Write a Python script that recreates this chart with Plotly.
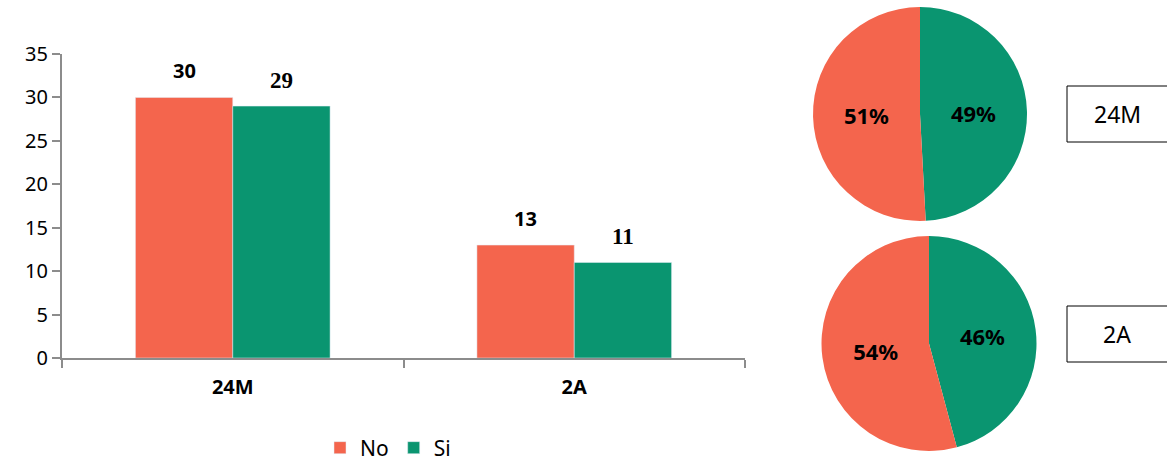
import plotly.graph_objects as go

categories = ["24M", "2A"]
no_values = [30, 13]
si_values = [29, 11]
series_names = ["No", "Si"]
y_ticks = [0, 5, 10, 15, 20, 25, 30, 35]

c_no = "#F4654D"
c_si = "#0A9570"
axis_col = "#8C8C8C"
W, H = 1167, 461

def px(x):
    return x / W

def py(y):
    return 1 - y / H

fig = go.Figure()

fig.add_trace(go.Bar(x=categories, y=no_values, name=series_names[0], marker_color=c_no))
fig.add_trace(go.Bar(x=categories, y=si_values, name=series_names[1], marker_color=c_si))

# value labels above bars (positioned via the data axes)
half_bar = 48.5
for cat, v in zip(categories, no_values):
    fig.add_annotation(xref="x", yref="y", x=cat, y=v, text=str(v), showarrow=False,
                       xshift=-half_bar, yshift=27, yanchor="middle",
                       font=dict(family="Noto Sans", size=20, color="black", weight="bold"))
for cat, v in zip(categories, si_values):
    fig.add_annotation(xref="x", yref="y", x=cat, y=v, text=str(v), showarrow=False,
                       xshift=half_bar, yshift=26, yanchor="middle",
                       font=dict(family="Liberation Serif", size=23, color="black", weight="bold"))

pie_domains = [
    dict(x=[px(813), px(1027)], y=[py(221), py(7)]),
    dict(x=[px(821), px(1037)], y=[py(451), py(236)]),
]
for i, cat in enumerate(categories):
    fig.add_trace(go.Pie(
        labels=[series_names[1], series_names[0]],
        values=[si_values[i], no_values[i]],
        marker=dict(colors=[c_si, c_no], line=dict(width=0)),
        sort=False, direction="clockwise", rotation=0,
        textinfo="percent", texttemplate="%{percent:.0%}",
        textposition="inside", insidetextorientation="horizontal",
        textfont=dict(family="Noto Sans", size=22, color="black", weight="bold"),
        domain=pie_domains[i], showlegend=False, hoverinfo="label+value+percent",
    ))

boxes = [(86, 142), (306, 362)]
for cat, (y0, y1) in zip(categories, boxes):
    fig.add_shape(type="rect", xref="paper", yref="paper",
                  x0=px(1067), x1=px(1175), y0=py(y1), y1=py(y0),
                  line=dict(color="black", width=1), fillcolor="white")
    fig.add_annotation(xref="paper", yref="paper", x=px(1117), y=py((y0 + y1) / 2),
                       text=cat, showarrow=False, xanchor="center", yanchor="middle",
                       font=dict(family="Noto Sans", size=23, color="black"))

fig.update_layout(
    width=W, height=H,
    margin=dict(l=0, r=0, t=0, b=0, autoexpand=False),
    paper_bgcolor="white", plot_bgcolor="white",
    barmode="group", bargap=0.43, bargroupgap=0,
    font=dict(family="Noto Sans", color="black"),
    legend=dict(orientation="h", x=px(388), y=py(448), xanchor="center", yanchor="middle",
                font=dict(family="Noto Sans", size=21, color="black"),
                itemwidth=30, traceorder="normal", tracegroupgap=0),
    xaxis=dict(domain=[px(62), px(745)], showline=True, linecolor=axis_col, linewidth=2,
               ticks="outside", tickson="boundaries", ticklen=8, tickcolor=axis_col,
               tickwidth=2, showgrid=False, automargin=False, ticklabelstandoff=10,
               tickfont=dict(family="Noto Sans", size=20, color="black", weight="bold")),
    yaxis=dict(domain=[py(358), py(54)], range=[0, 35], tickvals=y_ticks,
               showline=True, linecolor=axis_col, linewidth=2, ticks="outside",
               ticklen=8, tickcolor=axis_col, tickwidth=2, showgrid=False,
               zeroline=False, automargin=False,
               tickfont=dict(family="Noto Sans", size=20, color="black")),
)

fig.write_html(
    "out.html",
    config=dict(displayModeBar=False),
    post_script="document.body.style.margin='0';document.body.style.overflow='hidden';",
)
